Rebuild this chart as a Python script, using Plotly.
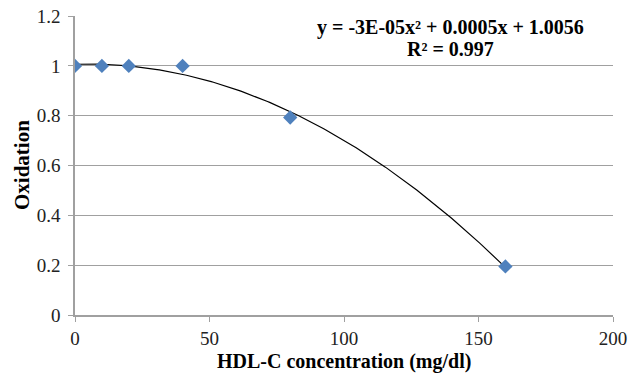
import numpy as np
import plotly.graph_objects as go

hdl_conc = [0, 10, 20, 40, 80, 160]
oxidation = [1.0, 1.0, 1.0, 1.0, 0.793, 0.195]
x_ticks = [0, 50, 100, 150, 200]
y_ticks = [0, 0.2, 0.4, 0.6, 0.8, 1.0, 1.2]
y_tick_labels = ["0", "0.2", "0.4", "0.6", "0.8", "1", "1.2"]
eq_line1 = "y = -3E-05x² + 0.0005x + 1.0056"
eq_line2 = "R² = 0.997"
x_title = "HDL-C concentration (mg/dl)"
y_title = "Oxidation"

# Polynomial (order 2) trendline fitted from the data, as the original spreadsheet does
coef = np.polyfit(hdl_conc, oxidation, 2)
xs = np.linspace(min(hdl_conc), max(hdl_conc), 200)
ys = np.polyval(coef, xs)

W, H = 639, 379
L, R, T, B = 75, 26, 16, 64
PW, PH = W - L - R, H - T - B


def px(x, y):
    return (x - L) / PW, 1 - (y - T) / PH


fig = go.Figure()
fig.add_trace(go.Scatter(x=xs, y=ys, mode="lines",
                         line=dict(color="black", width=1.2), hoverinfo="skip",
                         showlegend=False))
fig.add_trace(go.Scatter(x=hdl_conc, y=oxidation, mode="markers",
                         marker=dict(symbol="diamond", size=11, color="#4F81BD",
                                     line=dict(width=0)),
                         showlegend=False))

font_serif = "Liberation Serif, Times New Roman, serif"
fig.update_layout(
    width=W, height=H,
    margin=dict(l=L, r=R, t=T, b=B, autoexpand=False),
    plot_bgcolor="white", paper_bgcolor="white",
    font=dict(family=font_serif, size=19, color="#222"),
    xaxis=dict(range=[0, 200], tickvals=x_ticks, showgrid=False,
               showline=True, linecolor="#A0A0A0", linewidth=1.5,
               ticks="outside", ticklen=5, tickcolor="#A0A0A0",
               tickfont=dict(family=font_serif, size=19, color="#222"),
               zeroline=False, automargin=False),
    yaxis=dict(range=[0, 1.2006], tickvals=y_ticks, ticktext=y_tick_labels,
               showgrid=True, gridcolor="#A0A0A0", gridwidth=1,
               showline=True, linecolor="#A0A0A0", linewidth=1.5,
               ticks="outside", ticklen=5, tickcolor="#A0A0A0",
               ticklabelstandoff=4, ticklabeloverflow="allow",
               tickfont=dict(family=font_serif, size=19, color="#222"),
               zeroline=False, automargin=False),
)

ax, ay = px(450, 28)
fig.add_annotation(x=ax, y=ay, xref="paper", yref="paper", text="<b>" + eq_line1 + "</b>",
                   showarrow=False, xanchor="center", yanchor="middle",
                   font=dict(family=font_serif, size=20, color="black"))
ax, ay = px(450, 49)
fig.add_annotation(x=ax, y=ay, xref="paper", yref="paper", text="<b>" + eq_line2 + "</b>",
                   showarrow=False, xanchor="center", yanchor="middle",
                   font=dict(family=font_serif, size=20, color="black"))
ax, ay = px(344, 362)
fig.add_annotation(x=ax, y=ay, xref="paper", yref="paper", text="<b>" + x_title + "</b>",
                   showarrow=False, xanchor="center", yanchor="middle",
                   font=dict(family=font_serif, size=20, color="black"))
ax, ay = px(22, 165)
fig.add_annotation(x=ax, y=ay, xref="paper", yref="paper", text="<b>" + y_title + "</b>",
                   showarrow=False, xanchor="center", yanchor="middle", textangle=-90,
                   font=dict(family=font_serif, size=21, color="black"))

fig.write_html("out.html", config={"displayModeBar": False},
               post_script="document.body.style.margin='0';")
